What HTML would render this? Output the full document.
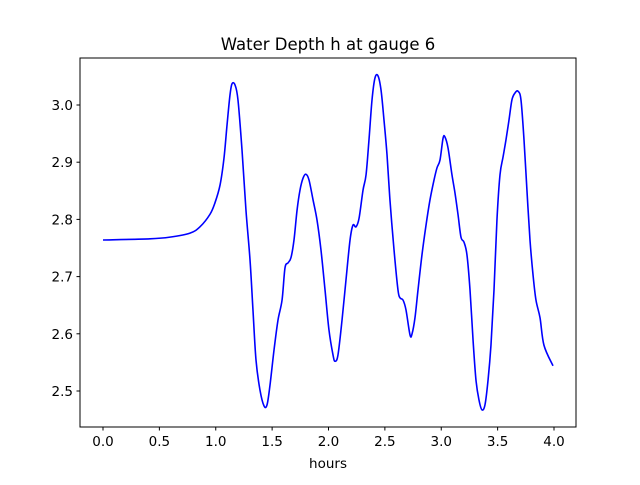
<!DOCTYPE html>
<html><head><meta charset="utf-8"><style>
body{margin:0;background:#fff;}
svg{font-family:"DejaVu Sans","Liberation Sans",sans-serif;}
</style></head><body>
<svg id="chart" width="640" height="480" xmlns="http://www.w3.org/2000/svg">
<rect width="640" height="480" fill="#fff"/>
<text x="328" y="50" text-anchor="middle" font-size="16.5">Water Depth h at gauge 6</text>
<g id="plot"></g>
<rect x="80" y="58" width="496" height="369" fill="none" stroke="#000" stroke-width="1"/>
<text x="328" y="468" text-anchor="middle" font-size="13.5">hours</text>
</svg>
<script>
const hours=[0,0.417,0.594,0.772,0.860,0.949,0.993,1.038,1.073,1.100,1.126,1.144,1.171,1.197,1.233,1.268,1.304,1.330,1.357,1.392,1.428,1.455,1.481,1.517,1.552,1.588,1.614,1.641,1.667,1.694,1.721,1.747,1.774,1.800,1.827,1.863,1.898,1.933,1.969,2.004,2.040,2.058,2.084,2.120,2.155,2.191,2.217,2.244,2.271,2.306,2.333,2.359,2.386,2.412,2.439,2.466,2.492,2.519,2.545,2.581,2.616,2.634,2.661,2.687,2.723,2.741,2.767,2.794,2.829,2.865,2.900,2.936,2.962,2.989,3.016,3.033,3.060,3.095,3.122,3.149,3.175,3.202,3.228,3.255,3.282,3.308,3.335,3.361,3.388,3.415,3.441,3.468,3.494,3.521,3.548,3.574,3.601,3.627,3.654,3.681,3.707,3.734,3.760,3.787,3.814,3.840,3.876,3.911,3.991];
const depth=[2.764,2.766,2.769,2.776,2.787,2.809,2.829,2.860,2.907,2.965,3.017,3.037,3.035,3.009,2.921,2.816,2.729,2.642,2.554,2.502,2.474,2.476,2.510,2.572,2.624,2.659,2.715,2.724,2.733,2.764,2.816,2.851,2.872,2.879,2.869,2.834,2.799,2.747,2.677,2.607,2.563,2.552,2.563,2.624,2.694,2.764,2.790,2.787,2.802,2.851,2.878,2.939,3.009,3.047,3.051,3.026,2.974,2.913,2.834,2.747,2.677,2.663,2.659,2.642,2.598,2.600,2.628,2.677,2.738,2.790,2.834,2.869,2.890,2.904,2.942,2.944,2.925,2.878,2.846,2.808,2.769,2.760,2.738,2.677,2.589,2.519,2.484,2.467,2.476,2.519,2.580,2.677,2.799,2.878,2.909,2.939,2.974,3.009,3.021,3.024,3.009,2.939,2.851,2.764,2.703,2.659,2.628,2.580,2.544];
const xTicks=[0,0.5,1,1.5,2,2.5,3,3.5,4];
const xTickLabels=["0.0","0.5","1.0","1.5","2.0","2.5","3.0","3.5","4.0"];
const yTicks=[2.5,2.6,2.7,2.8,2.9,3.0];
const yTickLabels=["2.5","2.6","2.7","2.8","2.9","3.0"];
const NS="http://www.w3.org/2000/svg";
const X=v=>103+v*112.75;
const Y=v=>105+(3.0-v)*572;
const g=document.getElementById('plot');
function mk(t,a){const e=document.createElementNS(NS,t);for(const k in a)e.setAttribute(k,a[k]);g.appendChild(e);return e;}
xTicks.forEach((t,i)=>{
 const l=mk('line',{x1:X(t),x2:X(t),y1:427,y2:430.5,stroke:'#000'});
 
 
 const tx=mk('text',{x:X(t),y:446,'text-anchor':'middle','font-size':'13.5'});
 tx.textContent=xTickLabels[i];
 
 
});
yTicks.forEach((t,i)=>{
 const l=mk('line',{x1:76.5,x2:80,y1:Y(t),y2:Y(t),stroke:'#000'});
 
 
 const tx=mk('text',{x:73,y:Y(t)+5,'text-anchor':'end','font-size':'13.5'});
 tx.textContent=yTickLabels[i];
 
 
});
const p=hours.map((h,i)=>[X(h),Y(depth[i])]);
let d='M'+p[0][0]+','+p[0][1];
for(let i=0;i<p.length-1;i++){
 const p0=p[Math.max(0,i-1)],p1=p[i],p2=p[i+1],p3=p[Math.min(p.length-1,i+2)];
 const c1=[p1[0]+(p2[0]-p0[0])/6,p1[1]+(p2[1]-p0[1])/6];
 const c2=[p2[0]-(p3[0]-p1[0])/6,p2[1]-(p3[1]-p1[1])/6];
 d+=`C${c1[0]},${c1[1]} ${c2[0]},${c2[1]} ${p2[0]},${p2[1]}`;
}
const line=mk('path',{d:d,fill:'none',stroke:'#0000ff','stroke-width':'1.6','stroke-linejoin':'round'});


</script>
</body></html>
